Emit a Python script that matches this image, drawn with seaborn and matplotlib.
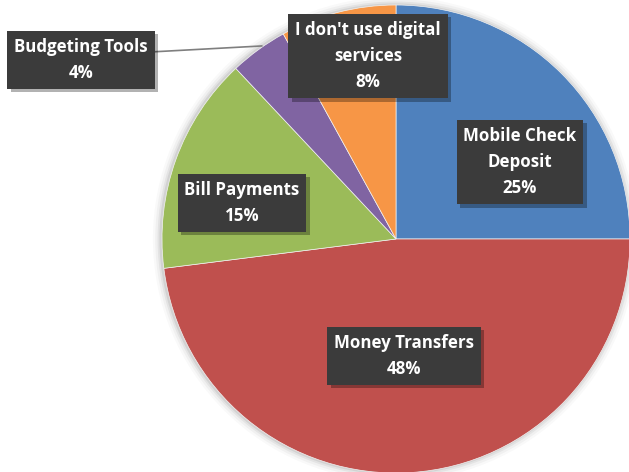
import matplotlib
matplotlib.use("Agg")
import matplotlib.pyplot as plt
import matplotlib.patheffects as pe
from matplotlib.patches import Circle
import seaborn as sns

sns.set_theme(style="white")
plt.rcParams["font.family"] = ["Open Sans", "DejaVu Sans"]

categories = ["Mobile Check\nDeposit", "Money Transfers", "Bill Payments",
              "Budgeting Tools", "I don't use digital\nservices"]
shares = [25, 48, 15, 4, 8]
colors = ["#4F81BD", "#C0504D", "#9BBB59", "#8064A2", "#F79646"]

# label anchor positions (data units, pie radius = 1)
label_pos = [(0.530, 0.329), (0.034, -0.500), (-0.658, 0.154),
             (-1.346, 0.765), (-0.120, 0.782)]

fig = plt.figure(figsize=(6.29, 4.72), dpi=100)
ax = fig.add_axes([0, 0, 1, 1])

# soft shadow around the pie
for r, a in [(1.035, 0.025), (1.025, 0.035), (1.015, 0.05), (1.007, 0.07)]:
    ax.add_patch(Circle((-0.004, 0.0), r, color="black", alpha=a, lw=0, zorder=0))

wedges, _ = ax.pie(shares, colors=colors, startangle=90, counterclock=False,
                   radius=1.0, wedgeprops=dict(linewidth=0.5, edgecolor="#f2f2f2"))
for w in wedges:
    w.set_zorder(1)

ax.set_xlim(-396 / 234, (629 - 396) / 234)
ax.set_ylim(-(472 - 239) / 234, 239 / 234)
ax.set_aspect("equal")
ax.axis("off")

# leader line for the small slice
ax.plot([-1.035, -0.573], [0.80, 0.825], color="#7f7f7f", lw=1.2, zorder=2)

for lab, val, (x, y) in zip(categories, shares, label_pos):
    t = ax.text(x, y, f"{lab}\n{val}%", ha="center", va="center",
                color="white", fontsize=12.2, fontweight="bold",
                linespacing=1.6, zorder=5,
                bbox=dict(boxstyle="square,pad=0.4", fc="#3b3b3b",
                          ec="none"))
    t.get_bbox_patch().set_path_effects([
        pe.SimplePatchShadow(offset=(2.5, -2.5), shadow_rgbFace="black",
                             alpha=0.3),
        pe.Normal()])

fig.savefig("out.png", dpi=100)
